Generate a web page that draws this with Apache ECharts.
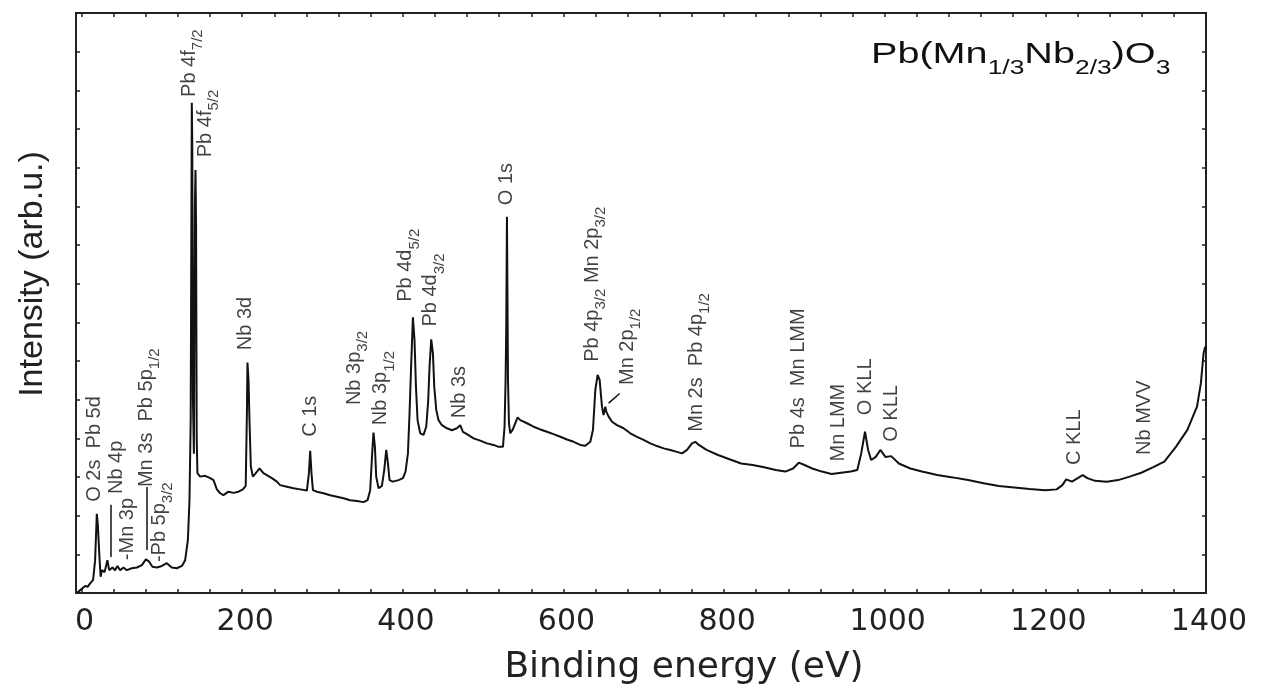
<!DOCTYPE html>
<html><head><meta charset="utf-8">
<script src="https://cdn.jsdelivr.net/npm/echarts@6/dist/echarts.min.js"></script>
<style>html,body{margin:0;padding:0;background:#fff}#c{width:1262px;height:688px}</style>
</head><body><div id="c"></div><script>
// Binding energy (eV)
const energy = [-5,1.0,4.4,7.5,10.6,14.3,16.8,18.9,20.2,21.4,22.4,23.7,25.2,28.6,32.1,34.3,38.4,41.7,44.6,48.0,52.1,56.3,62.5,68.8,75.0,80.0,84.1,88.2,93.7,99.9,106.1,112.3,118.6,124.8,128.9,132.3,134.3,135.8,137.2,137.8,138.6,139.8,141.0,141.8,142.5,143.3,144.2,147.6,149.7,153.8,160.1,164.2,168.4,172.5,176.6,182.8,189.1,195.3,200.8,204.3,205.8,206.5,207.8,209.0,210.7,213.2,216.1,221.5,226.4,230.7,236.9,243.1,247.2,255.6,263.8,272.2,280.5,283.0,284.6,286.2,288.0,293.0,301.2,309.5,317.9,326.1,334.4,342.8,351.0,356.0,359.3,361.8,363.4,365.2,366.8,369.7,373.9,376.8,379.3,381.4,383.4,387.6,394.6,400.1,403.3,406.3,408.3,410.4,412.5,414.5,416.3,418.3,421.6,425.7,429.1,431.6,433.2,435.3,437.4,439.1,441.6,444.4,448.6,454.9,461.1,467.3,471.4,474.8,479.8,488.0,496.3,504.7,512.9,519.1,524.6,526.6,527.9,528.7,529.6,530.9,532.1,533.7,536.6,539.9,542.8,546.2,554.5,562.7,571.1,579.4,587.6,596.0,604.3,612.6,620.9,627.1,633.4,636.7,639.6,642.5,645.0,647.9,649.9,652.1,653.3,656.2,660.4,666.6,674.8,683.2,691.5,699.7,708.1,716.4,724.7,733.0,741.3,747.6,753.8,760.0,764.1,768.5,778.1,792.4,806.7,821.2,835.5,849.8,864.3,876.2,885.8,893.0,900.1,909.7,921.7,933.8,945.7,957.7,965.8,970.7,975.4,979.3,983.1,988.8,994.5,1000.8,1008.0,1017.6,1031.9,1046.3,1065.4,1084.6,1103.8,1123.0,1142.2,1161.2,1180.4,1199.6,1214.0,1221.1,1226.0,1233.1,1240.3,1246.5,1252.3,1261.8,1276.3,1290.6,1304.9,1319.4,1333.7,1348.1,1362.5,1376.8,1388.8,1393.6,1397.0,1399.0,1400];
// Intensity (arb.u.)
const intensity = [0.02,0.12,0.18,0.16,0.25,0.34,0.85,2.05,1.76,1.72,0.85,0.42,0.59,0.54,0.85,0.59,0.66,0.59,0.70,0.59,0.66,0.59,0.64,0.66,0.72,0.87,0.81,0.68,0.66,0.70,0.77,0.66,0.64,0.70,0.85,1.37,2.40,4.47,12.68,11.5,5.0,3.6,9.9,10.94,9.5,4.0,3.10,3.01,3.05,3.03,2.97,2.92,2.68,2.58,2.53,2.62,2.59,2.62,2.68,2.77,4.65,5.96,5.51,4.47,3.27,3.01,3.08,3.22,3.10,3.05,2.97,2.88,2.79,2.75,2.71,2.68,2.65,3.10,3.68,3.10,2.66,2.62,2.58,2.53,2.49,2.45,2.40,2.38,2.35,2.40,2.66,3.61,4.15,3.78,3.01,2.71,2.77,3.18,3.70,3.35,2.92,2.88,2.92,2.97,3.14,3.61,4.65,5.94,7.13,6.54,5.33,4.47,4.13,4.09,4.30,4.99,5.85,6.56,6.20,5.33,4.73,4.47,4.34,4.26,4.21,4.26,4.34,4.17,4.11,4.00,3.94,3.87,3.83,3.78,3.78,4.30,5.51,6.80,9.73,5.51,4.39,4.13,4.22,4.39,4.54,4.47,4.39,4.30,4.23,4.17,4.11,4.04,3.97,3.91,3.83,3.81,3.91,4.22,5.25,5.64,5.51,4.82,4.60,4.82,4.69,4.56,4.43,4.34,4.26,4.13,4.04,3.96,3.87,3.80,3.74,3.70,3.65,3.61,3.70,3.87,3.91,3.83,3.70,3.57,3.46,3.35,3.31,3.25,3.18,3.14,3.22,3.37,3.31,3.22,3.14,3.08,3.11,3.14,3.18,3.61,4.17,3.70,3.44,3.52,3.70,3.52,3.54,3.35,3.22,3.14,3.05,2.99,2.92,2.84,2.77,2.73,2.69,2.66,2.68,2.79,2.94,2.88,2.97,3.05,2.97,2.90,2.88,2.92,3.01,3.11,3.25,3.40,3.78,4.22,4.82,5.42,6.20,6.37,6.30];

// Axis tick labels and tick positions (eV)
const xLabelValues = [0,200,400,600,800,1000,1200,1400];
const xTickValues = [0,40,80,120,160,200,240,280,320,360,400,440,480,520,560,600,640,680,720,760,800,840,880,920,960,1000,1040,1080,1120,1160,1200,1240,1280,1320,1360,1400];

// Peak annotations (text start, in data units) – rotated labels
const peakLabels = [
  '{n|O 2s  Pb 5d}',
  '{n|Nb 4p}',
  '{n|-Mn 3p}',
  '{n|Mn 3s  Pb 5p}{s|1/2}',
  '{n|-Pb 5p}{s|3/2}',
  '{n|Pb 4f}{s|7/2}',
  '{n|Pb 4f}{s|5/2}',
  '{n|Nb 3d}',
  '{n|C 1s}',
  '{n|Nb 3p}{s|3/2}',
  '{n|Nb 3p}{s|1/2}',
  '{n|Pb 4d}{s|5/2}',
  '{n|Pb 4d}{s|3/2}',
  '{n|Nb 3s}',
  '{n|O 1s}',
  '{n|Pb 4p}{s|3/2}{n| Mn 2p}{s|3/2}',
  '{n|Mn 2p}{s|1/2}',
  '{n|Mn 2s  Pb 4p}{s|1/2}',
  '{n|Pb 4s  Mn LMM}',
  '{n|Mn LMM}',
  '{n|O KLL}',
  '{n|O KLL}',
  '{n|C KLL}',
  '{n|Nb MVV}'
];
const peakLabelX = [16.8,44.2,57.9,81.6,97.8,135.1,155.9,205.8,286.7,340.7,373.9,405.1,436.2,471.4,530.3,637.5,681.1,767.0,894.0,943.2,976.9,1009.9,1238.0,1325.2];
const peakLabelY = [2.36,2.56,0.85,2.74,0.80,12.83,11.27,6.28,4.04,4.86,4.34,7.53,6.89,4.52,10.03,5.98,5.38,4.17,3.74,3.40,4.60,3.91,3.31,3.57];

// Leader lines (data units)
const leaderLines = [
  [[36.7, 2.28], [36.7, 0.93]],
  [[81.2, 2.74], [81.2, 1.11]],
  [[669.9, 5.16], [656.2, 4.91]]
];

const sampleName = '{m|Pb(Mn}{s|1/3}{m|Nb}{s|2/3}{m|)O}{s|3}';

const chart = echarts.init(document.getElementById('c'), null, {renderer: 'canvas'});
const axisCol = '#222';
const curve = energy.map((e, i) => [e, intensity[i]]);
const labelData = peakLabelX.map((x, i) => [x, peakLabelY[i]]);

const tickLine = {color: axisCol, width: 1.5};

chart.setOption({
  animation: false,
  backgroundColor: '#fff',
  grid: {left: 76, right: 56, top: 13, bottom: 95, containLabel: false, outerBoundsMode: 'none'},
  xAxis: [{
    type: 'value', position: 'bottom', min: -7, max: 1400,
    axisLine: {onZero: false, lineStyle: {color: axisCol, width: 2}},
    axisTick: {show: true, inside: true, length: 4, customValues: xTickValues, lineStyle: tickLine},
    axisLabel: {customValues: xLabelValues, formatter: v => String(v), fontSize: 30, fontFamily: 'DejaVu Sans', color: axisCol, margin: 14, padding: [0, 0, 0, 6]},
    splitLine: {show: false},
    name: 'Binding energy (eV)', nameLocation: 'middle', nameGap: 57,
    nameTextStyle: {fontSize: 36, fontFamily: 'DejaVu Sans', color: axisCol, padding: [0, 0, 0, 86]}
  }, {
    type: 'value', position: 'top', min: -7, max: 1400,
    axisLine: {onZero: false, lineStyle: {color: axisCol, width: 2}},
    axisTick: {show: true, inside: true, length: 4, customValues: xTickValues, lineStyle: tickLine},
    axisLabel: {show: false}, splitLine: {show: false}
  }],
  yAxis: [{
    type: 'value', position: 'left', min: 0, max: 15, interval: 1,
    axisLine: {show: true, onZero: false, lineStyle: {color: axisCol, width: 2}},
    axisTick: {show: true, inside: true, length: 4, lineStyle: tickLine},
    axisLabel: {show: false},
    splitLine: {show: false},
    name: 'Intensity (arb.u.)', nameLocation: 'middle', nameGap: 26,
    nameTextStyle: {fontSize: 34, fontFamily: 'Liberation Sans', color: axisCol, padding: [0, 0, 0, 58]}
  }, {
    type: 'value', position: 'right', min: 0, max: 15, interval: 1,
    axisLine: {show: true, onZero: false, lineStyle: {color: axisCol, width: 2}},
    axisTick: {show: true, inside: true, length: 4, lineStyle: tickLine},
    axisLabel: {show: false},
    splitLine: {show: false}
  }],
  series: [{
    type: 'line', data: curve, xAxisIndex: 0, yAxisIndex: 0,
    showSymbol: false, symbol: 'none', smooth: false, clip: true, silent: true,
    lineStyle: {color: '#111', width: 2}, z: 3
  }, {
    type: 'lines', coordinateSystem: 'cartesian2d', xAxisIndex: 0, yAxisIndex: 0, silent: true,
    data: leaderLines.map(c => ({coords: c})),
    lineStyle: {color: '#111', width: 1.5, opacity: 1}, z: 4
  }, {
    type: 'scatter', data: labelData, xAxisIndex: 0, yAxisIndex: 0,
    symbolSize: 1, itemStyle: {color: 'rgba(0,0,0,0)'}, silent: true, z: 5,
    label: {
      show: true, position: 'inside', rotate: 90, align: 'left', verticalAlign: 'middle',
      color: '#111', fontSize: 20, fontFamily: 'Liberation Sans',
      formatter: p => peakLabels[p.dataIndex],
      rich: {
        n: {fontSize: 20, fontFamily: 'Liberation Sans', color: '#111', lineHeight: 22, verticalAlign: 'top'},
        s: {fontSize: 15, fontFamily: 'Liberation Sans', color: '#111', lineHeight: 15, verticalAlign: 'top', padding: [11, 0, 0, 0]}
      }
    },
    labelLayout: {hideOverlap: false}
  }],
  graphic: [{
    type: 'text', x: 871, y: 40, scaleX: 1.32, silent: true,
    style: {
      text: sampleName, x: 0, y: 0, align: 'left', verticalAlign: 'top', fill: '#111',
      rich: {
        m: {fontSize: 30, fontFamily: 'Liberation Sans', fill: '#111', lineHeight: 32, verticalAlign: 'top'},
        s: {fontSize: 20, fontFamily: 'Liberation Sans', fill: '#111', lineHeight: 20, verticalAlign: 'top', padding: [18, 0, 0, 0]}
      }
    }
  }]
});
</script></body></html>
